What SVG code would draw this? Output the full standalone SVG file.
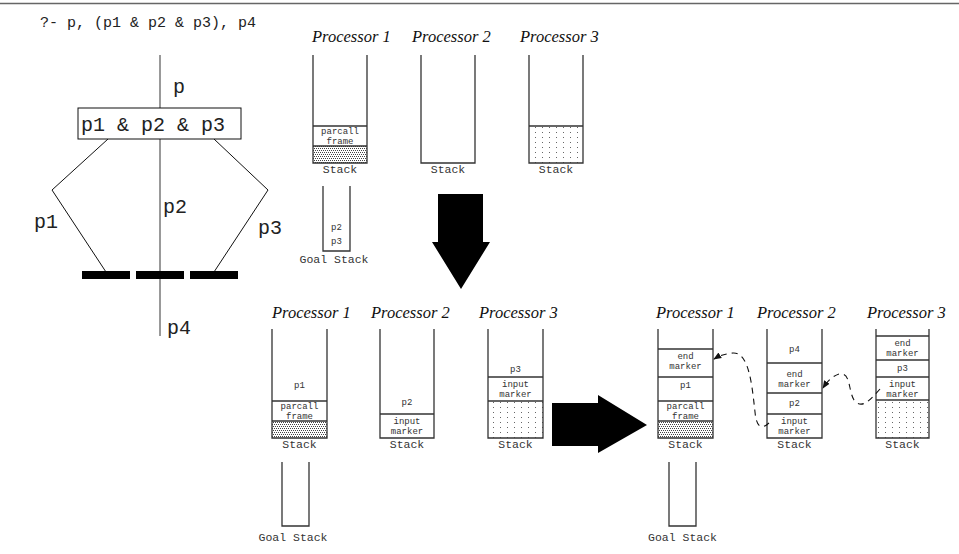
<svg xmlns="http://www.w3.org/2000/svg" width="959" height="554" viewBox="0 0 959 554">
<style>
.mono{font-family:Liberation Mono, Courier New, monospace;fill:#222}
.q{font-size:15px}
.big{font-size:20px}
.sm{font-size:9px;fill:#333}
.lab{font-size:11.5px;fill:#333}
.title{font-family:Liberation Serif, Times New Roman, serif;font-style:italic;font-size:16.5px;fill:#111}
.stk{fill:none;stroke:#333;stroke-width:1.3}
.div{stroke:#333;stroke-width:1.3}
.tree{fill:none;stroke:#111;stroke-width:1}
.trunk{stroke:#777;stroke-width:1.5}
.dash{fill:none;stroke:#111;stroke-width:1.1;stroke-dasharray:6 5}
</style>
<defs>
<pattern id="dense" patternUnits="userSpaceOnUse" width="4" height="4">
<rect width="4" height="4" fill="#fff"/>
<rect x="0" y="0" width="1" height="1" fill="#444"/>
<rect x="2" y="0" width="1" height="1" fill="#444"/>
<rect x="1" y="2" width="1" height="1" fill="#444"/>
<rect x="3" y="2" width="1" height="1" fill="#444"/>
</pattern>
<pattern id="sparse" patternUnits="userSpaceOnUse" width="7" height="5">
<rect width="7" height="5" fill="#fff"/>
<rect x="3" y="2" width="1" height="1" fill="#666"/>
</pattern>
<marker id="arr" viewBox="0 0 10 10" refX="9" refY="5" markerWidth="8" markerHeight="8" orient="auto" markerUnits="userSpaceOnUse">
<path d="M0,1 L10,5 L0,9 z" fill="#111"/>
</marker>
</defs>
<rect width="959" height="554" fill="#fff"/>
<line x1="0" y1="3.5" x2="959" y2="3.5" stroke="#666" stroke-width="1.5"/>

<g id="query" font-family="Liberation Mono, monospace">
<text class="mono q" x="40" y="27">?- p, (p1 &amp; p2 &amp; p3), p4</text>
</g>

<g id="tree-connectors">
<line class="trunk" x1="160" y1="55" x2="160" y2="108"/>
<line class="trunk" x1="160" y1="139" x2="160" y2="336"/>
<polyline class="tree" points="108,139 52,190 106,272"/>
<polyline class="tree" points="214,139 268,190 214,272"/>
</g>

<g id="tree" font-family="Liberation Mono, monospace">
<text class="mono big" x="173" y="93">p</text>
<rect x="78" y="108" width="163" height="31" fill="#fff" stroke="#111" stroke-width="1"/>
<text class="mono big" x="81" y="131">p1 &amp; p2 &amp; p3</text>
<text class="mono big" x="34" y="228">p1</text>
<text class="mono big" x="163" y="213">p2</text>
<text class="mono big" x="258" y="234">p3</text>
<text class="mono big" x="167" y="334">p4</text>
<rect x="82" y="271" width="48" height="8" fill="#000"/>
<rect x="136" y="271" width="48" height="8" fill="#000"/>
<rect x="190" y="271" width="48" height="8" fill="#000"/>
</g>

<!-- Top row -->
<g id="top-p1">
<text class="title" x="312" y="42">Processor 1</text>
<rect x="313" y="146" width="54" height="17" fill="url(#dense)"/>
<line class="div" x1="313" y1="126" x2="367" y2="126"/>
<line class="div" x1="313" y1="146" x2="367" y2="146"/>
<path class="stk" d="M313,55 V163 H367 V55"/>
<text class="mono sm" x="340" y="134" text-anchor="middle">parcall</text>
<text class="mono sm" x="340" y="143.5" text-anchor="middle">frame</text>
<text class="mono lab" x="340" y="173" text-anchor="middle">Stack</text>
</g>
<g id="top-p2">
<text class="title" x="412" y="42">Processor 2</text>
<path class="stk" d="M421,55 V163 H475 V55"/>
<text class="mono lab" x="448" y="173" text-anchor="middle">Stack</text>
</g>
<g id="top-p3">
<text class="title" x="520" y="42">Processor 3</text>
<rect x="529" y="126" width="54" height="37" fill="url(#sparse)"/>
<line class="div" x1="529" y1="126" x2="583" y2="126"/>
<path class="stk" d="M529,55 V163 H583 V55"/>
<text class="mono lab" x="556" y="173" text-anchor="middle">Stack</text>
</g>
<g id="top-goal">
<path class="stk" d="M323,186 V251 H350 V186"/>
<text class="mono sm" x="336.5" y="230" text-anchor="middle">p2</text>
<text class="mono sm" x="336.5" y="244" text-anchor="middle">p3</text>
<text class="mono lab" x="334" y="263" text-anchor="middle">Goal Stack</text>
</g>

<g id="down-arrow">
<polygon points="438,194 483,194 483,242 490,242 461,289 432,242 438,242" fill="#000"/>
</g>

<!-- Middle row -->
<g id="mid-p1">
<text class="title" x="272" y="318">Processor 1</text>
<rect x="272" y="421" width="55" height="17" fill="url(#dense)"/>
<line class="div" x1="272" y1="401" x2="327" y2="401"/>
<line class="div" x1="272" y1="421" x2="327" y2="421"/>
<path class="stk" d="M272,329 V438 H327 V329"/>
<text class="mono sm" x="299.5" y="388" text-anchor="middle">p1</text>
<text class="mono sm" x="299.5" y="409" text-anchor="middle">parcall</text>
<text class="mono sm" x="299.5" y="418.5" text-anchor="middle">frame</text>
<text class="mono lab" x="299.5" y="448" text-anchor="middle">Stack</text>
</g>
<g id="mid-p2">
<text class="title" x="371" y="318">Processor 2</text>
<line class="div" x1="380" y1="414" x2="434" y2="414"/>
<path class="stk" d="M380,329 V438 H434 V329"/>
<text class="mono sm" x="407" y="405" text-anchor="middle">p2</text>
<text class="mono sm" x="407" y="424" text-anchor="middle">input</text>
<text class="mono sm" x="407" y="434" text-anchor="middle">marker</text>
<text class="mono lab" x="407" y="448" text-anchor="middle">Stack</text>
</g>
<g id="mid-p3">
<text class="title" x="479" y="318">Processor 3</text>
<rect x="488" y="401" width="55" height="37" fill="url(#sparse)"/>
<line class="div" x1="488" y1="377" x2="543" y2="377"/>
<line class="div" x1="488" y1="401" x2="543" y2="401"/>
<path class="stk" d="M488,329 V438 H543 V329"/>
<text class="mono sm" x="515.5" y="372" text-anchor="middle">p3</text>
<text class="mono sm" x="515.5" y="387" text-anchor="middle">input</text>
<text class="mono sm" x="515.5" y="396.5" text-anchor="middle">marker</text>
<text class="mono lab" x="515.5" y="448" text-anchor="middle">Stack</text>
</g>
<g id="mid-goal">
<path class="stk" d="M282,462 V526 H309 V462"/>
<text class="mono lab" x="293" y="541" text-anchor="middle">Goal Stack</text>
</g>

<g id="right-arrow">
<polygon points="552,403 598,403 598,395 647,425 598,453 598,446 552,446" fill="#000"/>
</g>

<!-- Right row -->
<g id="right-p1">
<text class="title" x="656" y="318">Processor 1</text>
<rect x="658" y="421" width="55" height="17" fill="url(#dense)"/>
<line class="div" x1="658" y1="349" x2="713" y2="349"/>
<line class="div" x1="658" y1="377" x2="713" y2="377"/>
<line class="div" x1="658" y1="401" x2="713" y2="401"/>
<line class="div" x1="658" y1="421" x2="713" y2="421"/>
<path class="stk" d="M658,329 V438 H713 V329"/>
<text class="mono sm" x="685.5" y="359" text-anchor="middle">end</text>
<text class="mono sm" x="685.5" y="369" text-anchor="middle">marker</text>
<text class="mono sm" x="685.5" y="388" text-anchor="middle">p1</text>
<text class="mono sm" x="685.5" y="409" text-anchor="middle">parcall</text>
<text class="mono sm" x="685.5" y="418.5" text-anchor="middle">frame</text>
<text class="mono lab" x="685.5" y="448" text-anchor="middle">Stack</text>
</g>
<g id="right-p2">
<text class="title" x="757" y="318">Processor 2</text>
<line class="div" x1="767" y1="363" x2="822" y2="363"/>
<line class="div" x1="767" y1="393" x2="822" y2="393"/>
<line class="div" x1="767" y1="414" x2="822" y2="414"/>
<path class="stk" d="M767,329 V438 H822 V329"/>
<text class="mono sm" x="794.5" y="352" text-anchor="middle">p4</text>
<text class="mono sm" x="794.5" y="377" text-anchor="middle">end</text>
<text class="mono sm" x="794.5" y="387" text-anchor="middle">marker</text>
<text class="mono sm" x="794.5" y="406" text-anchor="middle">p2</text>
<text class="mono sm" x="794.5" y="424" text-anchor="middle">input</text>
<text class="mono sm" x="794.5" y="434" text-anchor="middle">marker</text>
<text class="mono lab" x="794.5" y="448" text-anchor="middle">Stack</text>
</g>
<g id="right-p3">
<text class="title" x="867" y="318">Processor 3</text>
<rect x="876" y="400" width="53" height="38" fill="url(#sparse)"/>
<line class="div" x1="876" y1="336" x2="929" y2="336"/>
<line class="div" x1="876" y1="360" x2="929" y2="360"/>
<line class="div" x1="876" y1="377" x2="929" y2="377"/>
<line class="div" x1="876" y1="400" x2="929" y2="400"/>
<path class="stk" d="M876,329 V438 H929 V329"/>
<text class="mono sm" x="902.5" y="346" text-anchor="middle">end</text>
<text class="mono sm" x="902.5" y="355.5" text-anchor="middle">marker</text>
<text class="mono sm" x="902.5" y="371" text-anchor="middle">p3</text>
<text class="mono sm" x="902.5" y="387" text-anchor="middle">input</text>
<text class="mono sm" x="902.5" y="396.5" text-anchor="middle">marker</text>
<text class="mono lab" x="902.5" y="448" text-anchor="middle">Stack</text>
</g>
<g id="right-goal">
<path class="stk" d="M669,462 V526 H696 V462"/>
<text class="mono lab" x="682.5" y="541" text-anchor="middle">Goal Stack</text>
</g>

<g id="connectors">
<path class="dash" d="M769,423 Q757,434 755,412 C752,385 749,352 733,353 Q722,354 714,359" marker-end="url(#arr)"/>
<path class="dash" d="M880,389 C870,400 862,410 854,400 C848,390 851,372 839,374 Q830,377 823,388" marker-end="url(#arr)"/>
</g>
</svg>
